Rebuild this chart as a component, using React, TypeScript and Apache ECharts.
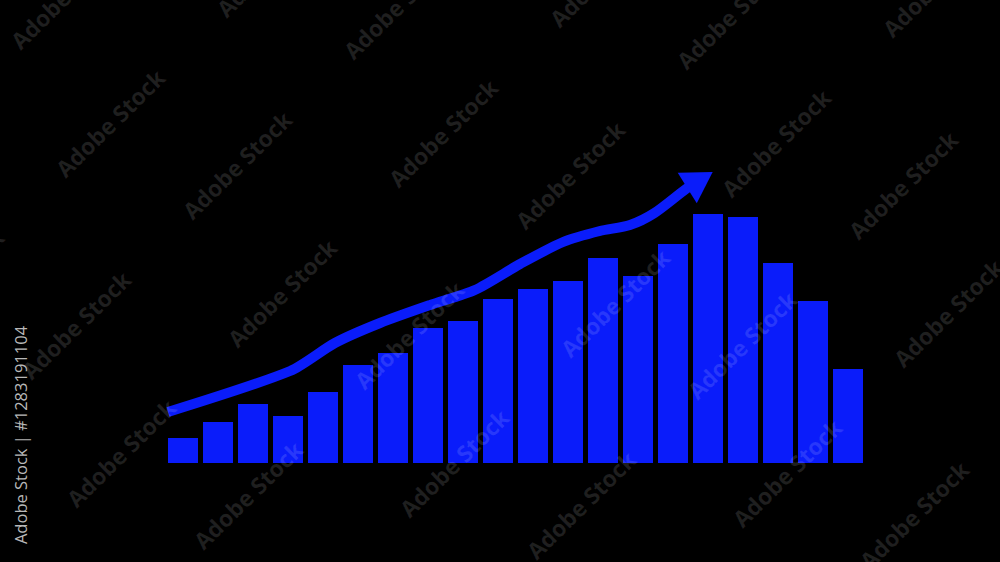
import React, { useEffect, useRef } from "react";
import * as echarts from "echarts";

// Bar categories (20 periods) and bar values
const categories: string[] = [
  "1", "2", "3", "4", "5", "6", "7", "8", "9", "10",
  "11", "12", "13", "14", "15", "16", "17", "18", "19", "20",
];
const barValues: number[] = [
  25, 41, 59, 47, 71, 98, 110, 135, 142, 164,
  174, 182, 205, 187, 219, 249, 246, 200, 162, 94,
];

// Trend arrow: x in category units (0..20), y in same value scale as bars
const trendX: number[] = [0.07, 3.56, 4.84, 6.13, 7.56, 8.84, 10.13, 11.36, 12.41, 13.27, 13.97, 14.87, 15.27];
const trendY: number[] = [51, 92, 120, 140, 158, 173, 199, 221, 232, 238, 250, 274, 283];

const BLUE = "#0a1cfa";

export default function App() {
  const ref = useRef<HTMLDivElement>(null);

  useEffect(() => {
    document.body.style.background = "#000";
    const chart = echarts.init(ref.current!, undefined, { renderer: "svg" });

    const trendData: any[] = trendX.map((x, i) => {
      const last = i === trendX.length - 1;
      return last
        ? {
            value: [x, trendY[i]],
            symbol: "triangle",
            symbolSize: [36, 30],
            symbolRotate: -58,
            itemStyle: { color: BLUE },
          }
        : { value: [x, trendY[i]], symbol: "none" };
    });

    // watermark lattice (decoration)
    const marks: any[] = [];
    const A0 = [110, 123];
    const u = [333, 10];
    const v = [127, 42];
    const w = [172, 170];
    for (let k = -1; k <= 2; k++) {
      for (let j = -1; j <= 3; j++) {
        const ax = A0[0] + k * w[0] + j * u[0];
        const ay = A0[1] + k * w[1] + j * u[1];
        for (const p of [[ax, ay], [ax + v[0], ay + v[1]]]) {
          if (p[0] < -120 || p[0] > 1120 || p[1] < -120 || p[1] > 680) continue;
          marks.push({
            type: "text",
            x: p[0],
            y: p[1],
            rotation: Math.PI / 4 - 0.01,
            z: 100,
            silent: true,
            style: {
              text: "Adobe Stock",
              fill: "rgba(255,255,255,0.12)",
              fontSize: 23,
              fontWeight: "bold",
              fontFamily: "Open Sans",
              align: "center",
              verticalAlign: "middle",
            },
          });
        }
      }
    }
    marks.push({
      type: "text",
      x: 20,
      y: 435,
      rotation: Math.PI / 2,
      z: 101,
      silent: true,
      style: {
        text: "Adobe Stock | #1283191104",
        fill: "#b8b8b8",
        fontSize: 16.5,
        fontFamily: "Open Sans",
        align: "center",
        verticalAlign: "middle",
      },
    });

    chart.setOption({
      animation: false,
      backgroundColor: "#000",
      grid: { left: 165.5, top: 163, width: 700, height: 300 },
      xAxis: [
        { type: "category", data: categories, show: false },
        { type: "value", min: 0, max: 20, show: false },
      ],
      yAxis: { type: "value", min: 0, max: 300, show: false },
      series: [
        {
          type: "bar",
          data: barValues,
          barWidth: 30,
          itemStyle: { color: BLUE },
          xAxisIndex: 0,
        },
        {
          type: "line",
          xAxisIndex: 1,
          data: trendData,
          smooth: 0.25,
          showSymbol: true,
          showAllSymbol: true,
          lineStyle: { color: BLUE, width: 10 },
          itemStyle: { color: BLUE },
          z: 3,
        },
      ],
      graphic: marks,
    });

    return () => chart.dispose();
  }, []);

  return (
    <div
      ref={ref}
      style={{ position: "fixed", left: 0, top: 0, width: 1000, height: 562, background: "#000" }}
    />
  );
}
